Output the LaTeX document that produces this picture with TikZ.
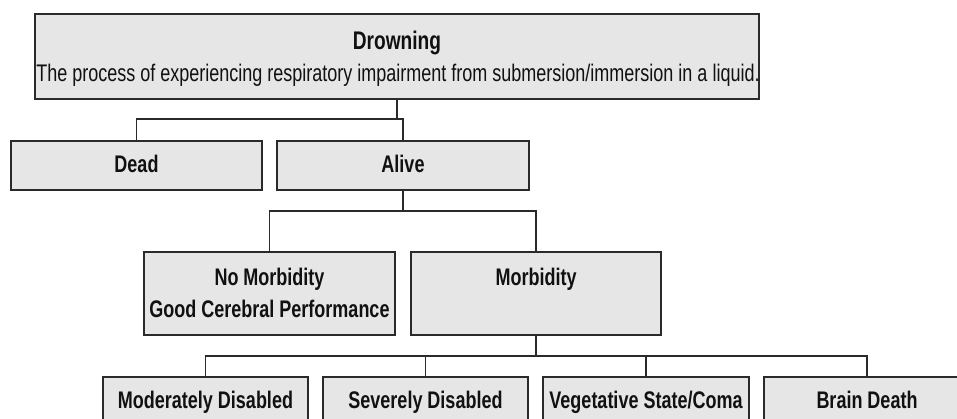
\documentclass[tikz,border=0pt]{standalone}
\usepackage{fontspec}
\newfontfamily\labfont{Liberation Sans}[FakeStretch=0.75]
\definecolor{boxfill}{HTML}{E6E6E6}
\definecolor{boxline}{HTML}{2A2A2A}
\definecolor{txt}{HTML}{111111}
\begin{document}
\begin{tikzpicture}[x=1pt,y=-1pt,
  box/.style={draw=boxline, line width=2pt, fill=boxfill, rectangle, inner sep=0pt},
  lbl/.style={anchor=base, inner sep=0pt, text=txt, font=\labfont\fontsize{24}{29}\selectfont\bfseries},
  sub/.style={anchor=base, inner sep=0pt, text=txt, font=\labfont\fontsize{24}{29}\selectfont},
  link/.style={draw=boxline, line width=1.6pt}]
\useasboundingbox (0,0) rectangle (957,419);
\clip (0,0) rectangle (957,419);
\fill[white] (0,0) rectangle (957,419);
% boxes
\node[box, minimum width=724pt, minimum height=85pt] (top) at (397,56.5) {};
\node[box, minimum width=251pt, minimum height=49pt] (dead) at (136.5,165.5) {};
\node[box, minimum width=252pt, minimum height=49pt] (alive) at (403,165.5) {};
\node[box, minimum width=251pt, minimum height=83pt] (nomorb) at (269.5,293.5) {};
\node[box, minimum width=250pt, minimum height=83pt] (morb) at (536,293.5) {};
\node[box, minimum width=205pt, minimum height=47pt] (mod) at (205.5,400.5) {};
\node[box, minimum width=205pt, minimum height=47pt] (sev) at (425.5,400.5) {};
\node[box, minimum width=206pt, minimum height=47pt] (veg) at (646,400.5) {};
\node[box, minimum width=206pt, minimum height=47pt] (brain) at (867,400.5) {};
% labels
\node[lbl, font=\labfont\fontsize{25.5}{30}\selectfont\bfseries] (tDrown) at (397,50) {Drowning};
\node[sub] (tDef) at (398,82) {The process of experiencing respiratory impairment from submersion/immersion in a liquid.};
\node[lbl] (tDead) at (136.5,172.5) {Dead};
\node[lbl] (tAlive) at (403,172.5) {Alive};
\node[lbl] (tNoM1) at (269.5,285) {No Morbidity};
\node[lbl] (tNoM2) at (269.5,317) {Good Cerebral Performance};
\node[lbl] (tMorb) at (536,285) {Morbidity};
\node[lbl] (tMod) at (205.5,408) {Moderately Disabled};
\node[lbl] (tSev) at (425.5,408) {Severely Disabled};
\node[lbl] (tVeg) at (646,408) {Vegetative State/Coma};
\node[lbl] (tBrain) at (867,408) {Brain Death};
% junctions
\coordinate (j1) at (397,119);
\coordinate (j2) at (403,211);
\coordinate (j3) at (536,356);
% connectors
\draw[link] (top.south) -- (j1) -| (dead.north);
\draw[link] (j1) -| (alive.north);
\draw[link] (alive.south) -- (j2) -| (nomorb.north);
\draw[link] (j2) -| (morb.north);
\draw[link] (morb.south) -- (j3) -| (mod.north);
\draw[link] (j3) -| (sev.north);
\draw[link] (j3) -| (veg.north);
\draw[link] (j3) -| (brain.north);
\end{tikzpicture}
\end{document}
